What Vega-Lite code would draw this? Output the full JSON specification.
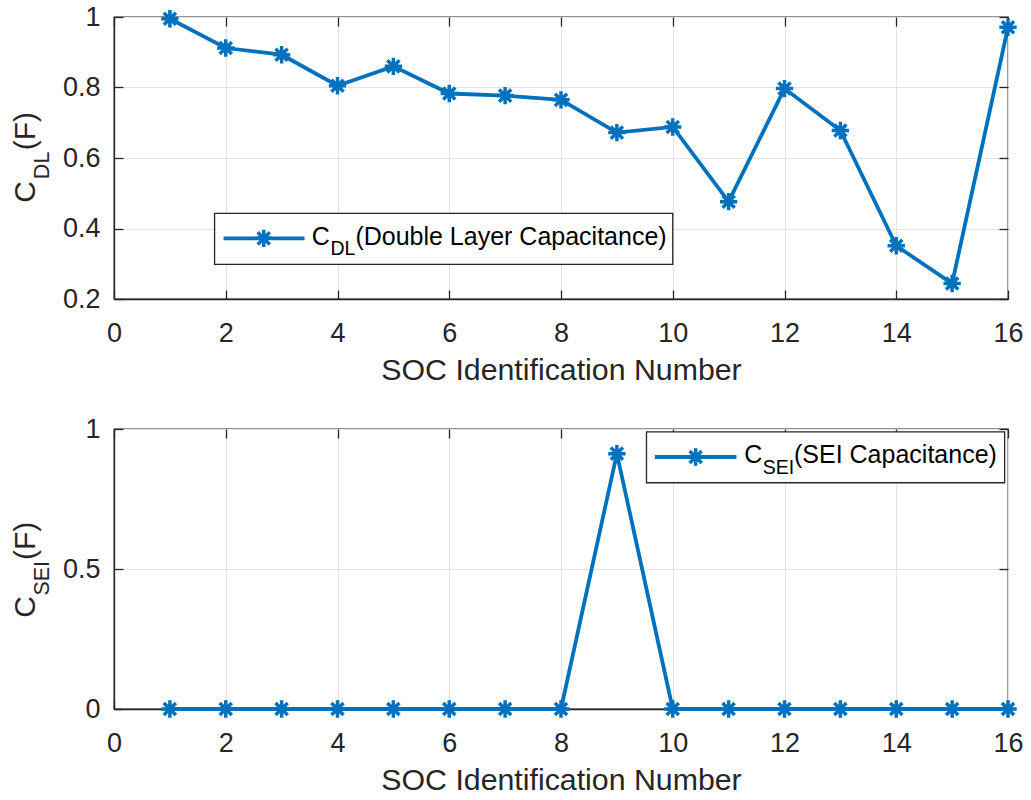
{
  "$schema": "https://vega.github.io/schema/vega-lite/v6.json",
  "background": "white",
  "padding": {"left": 10, "top": 2, "right": 5, "bottom": 5},
  "spacing": 28,
  "config": {
    "view": {"stroke": "#262626", "strokeWidth": 1.3},
    "axis": {
      "labelFont": "Liberation Sans",
      "labelFontSize": 27,
      "labelColor": "#262626",
      "labelFlush": false,
      "titleFont": "Liberation Sans",
      "titleFontSize": 30.3,
      "titleFontWeight": "normal",
      "titleColor": "#262626",
      "domainColor": "#262626",
      "domainWidth": 1.3,
      "tickColor": "#262626",
      "tickWidth": 1.3,
      "gridColor": "#e3e3e3",
      "gridWidth": 1
    },
    "text": {"font": "Liberation Sans"}
  },
  "datasets": {
    "cdl": [
      {"soc": 1, "cap": 0.995},
      {"soc": 2, "cap": 0.912},
      {"soc": 3, "cap": 0.893},
      {"soc": 4, "cap": 0.805},
      {"soc": 5, "cap": 0.860},
      {"soc": 6, "cap": 0.783},
      {"soc": 7, "cap": 0.777},
      {"soc": 8, "cap": 0.765},
      {"soc": 9, "cap": 0.672},
      {"soc": 10, "cap": 0.688},
      {"soc": 11, "cap": 0.476},
      {"soc": 12, "cap": 0.797},
      {"soc": 13, "cap": 0.678},
      {"soc": 14, "cap": 0.351},
      {"soc": 15, "cap": 0.244},
      {"soc": 16, "cap": 0.971}
    ],
    "csei": [
      {"soc": 1, "cap": 0},
      {"soc": 2, "cap": 0},
      {"soc": 3, "cap": 0},
      {"soc": 4, "cap": 0},
      {"soc": 5, "cap": 0},
      {"soc": 6, "cap": 0},
      {"soc": 7, "cap": 0},
      {"soc": 8, "cap": 0},
      {"soc": 9, "cap": 0.912},
      {"soc": 10, "cap": 0},
      {"soc": 11, "cap": 0},
      {"soc": 12, "cap": 0},
      {"soc": 13, "cap": 0},
      {"soc": 14, "cap": 0},
      {"soc": 15, "cap": 0},
      {"soc": 16, "cap": 0}
    ]
  },
  "vconcat": [
    {
      "width": 894,
      "height": 282,
      "resolve": {"axis": {"x": "independent", "y": "independent"}},
      "layer": [
        {
          "data": {"name": "cdl"},
          "mark": {"type": "line", "color": "#0072BD", "strokeWidth": 3.8, "clip": false},
          "encoding": {
            "x": {"field": "soc", "type": "quantitative", "scale": {"domain": [0, 16], "nice": false, "zero": false},
                  "axis": {"values": [0, 2, 4, 6, 8, 10, 12, 14, 16], "format": "~g", "grid": true, "ticks": false, "labelPadding": 21, "title": "SOC Identification Number", "titlePadding": 9}},
            "y": {"field": "cap", "type": "quantitative", "scale": {"domain": [0.2, 1], "nice": false, "zero": false},
                  "axis": {"values": [0.2, 0.4, 0.6, 0.8, 1], "format": "~g", "grid": true, "ticks": false, "labelPadding": 14, "title": null}}
          }
        },
        {
          "data": {"name": "cdl"},
          "mark": {"type": "point", "shape": "M0,-1L0,1M-1,0L1,0M-0.7,-0.7L0.7,0.7M-0.7,0.7L0.7,-0.7", "filled": false, "stroke": "#0072BD", "strokeWidth": 3.5, "size": 300, "opacity": 1, "clip": false},
          "encoding": {
            "x": {"field": "soc", "type": "quantitative", "scale": {"domain": [0, 16], "nice": false, "zero": false},
                  "axis": {"orient": "bottom", "values": [0, 2, 4, 6, 8, 10, 12, 14, 16], "labels": false, "domain": false, "grid": false, "tickSize": -9, "title": null}},
            "y": {"field": "cap", "type": "quantitative", "scale": {"domain": [0.2, 1], "nice": false, "zero": false},
                  "axis": {"orient": "left", "values": [0.2, 0.4, 0.6, 0.8, 1], "labels": false, "domain": false, "grid": false, "tickSize": -9, "title": null}}
          }
        },
        {
          "data": {"values": [{}]},
          "mark": {"type": "rect", "fill": "white", "stroke": "#262626", "strokeWidth": 1.3},
          "encoding": {
            "x": {"datum": 1.8, "type": "quantitative", "scale": {"domain": [0, 16], "nice": false, "zero": false},
                  "axis": {"orient": "top", "values": [0, 2, 4, 6, 8, 10, 12, 14, 16], "labels": false, "domain": false, "grid": false, "tickSize": -9, "title": null}},
            "x2": {"datum": 10.0},
            "y": {"datum": 0.443, "type": "quantitative", "scale": {"domain": [0.2, 1], "nice": false, "zero": false},
                  "axis": {"orient": "right", "values": [0.2, 0.4, 0.6, 0.8, 1], "labels": false, "domain": false, "grid": false, "tickSize": -9, "title": null}},
            "y2": {"datum": 0.298}
          }
        },
        {
          "data": {"values": [{}]},
          "mark": {"type": "rule", "color": "#0072BD", "strokeWidth": 3.8},
          "encoding": {
            "x": {"datum": 1.96, "type": "quantitative", "scale": {"domain": [0, 16], "nice": false, "zero": false}, "axis": null},
            "x2": {"datum": 3.41},
            "y": {"datum": 0.372, "type": "quantitative", "scale": {"domain": [0.2, 1], "nice": false, "zero": false}, "axis": null}
          }
        },
        {
          "data": {"values": [{}]},
          "mark": {"type": "point", "shape": "M0,-1L0,1M-1,0L1,0M-0.7,-0.7L0.7,0.7M-0.7,0.7L0.7,-0.7", "filled": false, "stroke": "#0072BD", "strokeWidth": 3.5, "size": 300, "opacity": 1},
          "encoding": {
            "x": {"datum": 2.68, "type": "quantitative", "scale": {"domain": [0, 16], "nice": false, "zero": false}, "axis": null},
            "y": {"datum": 0.372, "type": "quantitative", "scale": {"domain": [0.2, 1], "nice": false, "zero": false}, "axis": null}
          }
        },
        {
          "data": {"values": [{}]},
          "mark": {"type": "text", "text": "C", "fontSize": 25, "align": "left", "baseline": "alphabetic", "color": "#000000"},
          "encoding": {
            "x": {"datum": 3.54, "type": "quantitative", "scale": {"domain": [0, 16], "nice": false, "zero": false}, "axis": null},
            "y": {"datum": 0.354, "type": "quantitative", "scale": {"domain": [0.2, 1], "nice": false, "zero": false}, "axis": null}
          }
        },
        {
          "data": {"values": [{}]},
          "mark": {"type": "text", "text": "DL", "fontSize": 19.5, "align": "left", "baseline": "alphabetic", "color": "#000000"},
          "encoding": {
            "x": {"datum": 3.875, "type": "quantitative", "scale": {"domain": [0, 16], "nice": false, "zero": false}, "axis": null},
            "y": {"datum": 0.326, "type": "quantitative", "scale": {"domain": [0.2, 1], "nice": false, "zero": false}, "axis": null}
          }
        },
        {
          "data": {"values": [{}]},
          "mark": {"type": "text", "text": "(Double Layer Capacitance)", "fontSize": 25, "align": "left", "baseline": "alphabetic", "color": "#000000"},
          "encoding": {
            "x": {"datum": 4.32, "type": "quantitative", "scale": {"domain": [0, 16], "nice": false, "zero": false}, "axis": null},
            "y": {"datum": 0.354, "type": "quantitative", "scale": {"domain": [0.2, 1], "nice": false, "zero": false}, "axis": null}
          }
        },
        {
          "data": {"values": [{}]},
          "mark": {"type": "text", "text": "C", "fontSize": 30, "angle": 270, "align": "left", "baseline": "alphabetic", "color": "#262626"},
          "encoding": {
            "x": {"datum": -1.41, "type": "quantitative", "scale": {"domain": [0, 16], "nice": false, "zero": false}, "axis": null},
            "y": {"datum": 0.473, "type": "quantitative", "scale": {"domain": [0.2, 1], "nice": false, "zero": false}, "axis": null}
          }
        },
        {
          "data": {"values": [{}]},
          "mark": {"type": "text", "text": "DL", "fontSize": 21.5, "angle": 270, "align": "left", "baseline": "alphabetic", "color": "#262626"},
          "encoding": {
            "x": {"datum": -1.165, "type": "quantitative", "scale": {"domain": [0, 16], "nice": false, "zero": false}, "axis": null},
            "y": {"datum": 0.540, "type": "quantitative", "scale": {"domain": [0.2, 1], "nice": false, "zero": false}, "axis": null}
          }
        },
        {
          "data": {"values": [{}]},
          "mark": {"type": "text", "text": "(F)", "fontSize": 30, "angle": 270, "align": "left", "baseline": "alphabetic", "color": "#262626"},
          "encoding": {
            "x": {"datum": -1.41, "type": "quantitative", "scale": {"domain": [0, 16], "nice": false, "zero": false}, "axis": null},
            "y": {"datum": 0.622, "type": "quantitative", "scale": {"domain": [0.2, 1], "nice": false, "zero": false}, "axis": null}
          }
        }
      ]
    },
    {
      "width": 894,
      "height": 280,
      "resolve": {"axis": {"x": "independent", "y": "independent"}},
      "layer": [
        {
          "data": {"name": "csei"},
          "mark": {"type": "line", "color": "#0072BD", "strokeWidth": 3.8, "clip": false},
          "encoding": {
            "x": {"field": "soc", "type": "quantitative", "scale": {"domain": [0, 16], "nice": false, "zero": false},
                  "axis": {"values": [0, 2, 4, 6, 8, 10, 12, 14, 16], "format": "~g", "grid": true, "ticks": false, "labelPadding": 21, "title": "SOC Identification Number", "titlePadding": 9}},
            "y": {"field": "cap", "type": "quantitative", "scale": {"domain": [0, 1], "nice": false, "zero": false},
                  "axis": {"values": [0, 0.5, 1], "format": "~g", "grid": true, "ticks": false, "labelPadding": 14, "title": null}}
          }
        },
        {
          "data": {"name": "csei"},
          "mark": {"type": "point", "shape": "M0,-1L0,1M-1,0L1,0M-0.7,-0.7L0.7,0.7M-0.7,0.7L0.7,-0.7", "filled": false, "stroke": "#0072BD", "strokeWidth": 3.5, "size": 300, "opacity": 1, "clip": false},
          "encoding": {
            "x": {"field": "soc", "type": "quantitative", "scale": {"domain": [0, 16], "nice": false, "zero": false},
                  "axis": {"orient": "bottom", "values": [0, 2, 4, 6, 8, 10, 12, 14, 16], "labels": false, "domain": false, "grid": false, "tickSize": -9, "title": null}},
            "y": {"field": "cap", "type": "quantitative", "scale": {"domain": [0, 1], "nice": false, "zero": false},
                  "axis": {"orient": "left", "values": [0, 0.5, 1], "labels": false, "domain": false, "grid": false, "tickSize": -9, "title": null}}
          }
        },
        {
          "data": {"values": [{}]},
          "mark": {"type": "rect", "fill": "white", "stroke": "#262626", "strokeWidth": 1.3},
          "encoding": {
            "x": {"datum": 9.53, "type": "quantitative", "scale": {"domain": [0, 16], "nice": false, "zero": false},
                  "axis": {"orient": "top", "values": [0, 2, 4, 6, 8, 10, 12, 14, 16], "labels": false, "domain": false, "grid": false, "tickSize": -9, "title": null}},
            "x2": {"datum": 15.94},
            "y": {"datum": 0.990, "type": "quantitative", "scale": {"domain": [0, 1], "nice": false, "zero": false},
                  "axis": {"orient": "right", "values": [0, 0.5, 1], "labels": false, "domain": false, "grid": false, "tickSize": -9, "title": null}},
            "y2": {"datum": 0.808}
          }
        },
        {
          "data": {"values": [{}]},
          "mark": {"type": "rule", "color": "#0072BD", "strokeWidth": 3.8},
          "encoding": {
            "x": {"datum": 9.68, "type": "quantitative", "scale": {"domain": [0, 16], "nice": false, "zero": false}, "axis": null},
            "x2": {"datum": 11.14},
            "y": {"datum": 0.9, "type": "quantitative", "scale": {"domain": [0, 1], "nice": false, "zero": false}, "axis": null}
          }
        },
        {
          "data": {"values": [{}]},
          "mark": {"type": "point", "shape": "M0,-1L0,1M-1,0L1,0M-0.7,-0.7L0.7,0.7M-0.7,0.7L0.7,-0.7", "filled": false, "stroke": "#0072BD", "strokeWidth": 3.5, "size": 300, "opacity": 1},
          "encoding": {
            "x": {"datum": 10.41, "type": "quantitative", "scale": {"domain": [0, 16], "nice": false, "zero": false}, "axis": null},
            "y": {"datum": 0.9, "type": "quantitative", "scale": {"domain": [0, 1], "nice": false, "zero": false}, "axis": null}
          }
        },
        {
          "data": {"values": [{}]},
          "mark": {"type": "text", "text": "C", "fontSize": 25, "align": "left", "baseline": "alphabetic", "color": "#000000"},
          "encoding": {
            "x": {"datum": 11.28, "type": "quantitative", "scale": {"domain": [0, 16], "nice": false, "zero": false}, "axis": null},
            "y": {"datum": 0.880, "type": "quantitative", "scale": {"domain": [0, 1], "nice": false, "zero": false}, "axis": null}
          }
        },
        {
          "data": {"values": [{}]},
          "mark": {"type": "text", "text": "SEI", "fontSize": 19.5, "align": "left", "baseline": "alphabetic", "color": "#000000"},
          "encoding": {
            "x": {"datum": 11.61, "type": "quantitative", "scale": {"domain": [0, 16], "nice": false, "zero": false}, "axis": null},
            "y": {"datum": 0.838, "type": "quantitative", "scale": {"domain": [0, 1], "nice": false, "zero": false}, "axis": null}
          }
        },
        {
          "data": {"values": [{}]},
          "mark": {"type": "text", "text": "(SEI Capacitance)", "fontSize": 25, "align": "left", "baseline": "alphabetic", "color": "#000000"},
          "encoding": {
            "x": {"datum": 12.17, "type": "quantitative", "scale": {"domain": [0, 16], "nice": false, "zero": false}, "axis": null},
            "y": {"datum": 0.880, "type": "quantitative", "scale": {"domain": [0, 1], "nice": false, "zero": false}, "axis": null}
          }
        },
        {
          "data": {"values": [{}]},
          "mark": {"type": "text", "text": "C", "fontSize": 30, "angle": 270, "align": "left", "baseline": "alphabetic", "color": "#262626"},
          "encoding": {
            "x": {"datum": -1.41, "type": "quantitative", "scale": {"domain": [0, 16], "nice": false, "zero": false}, "axis": null},
            "y": {"datum": 0.326, "type": "quantitative", "scale": {"domain": [0, 1], "nice": false, "zero": false}, "axis": null}
          }
        },
        {
          "data": {"values": [{}]},
          "mark": {"type": "text", "text": "SEI", "fontSize": 21.5, "angle": 270, "align": "left", "baseline": "alphabetic", "color": "#262626"},
          "encoding": {
            "x": {"datum": -1.165, "type": "quantitative", "scale": {"domain": [0, 16], "nice": false, "zero": false}, "axis": null},
            "y": {"datum": 0.405, "type": "quantitative", "scale": {"domain": [0, 1], "nice": false, "zero": false}, "axis": null}
          }
        },
        {
          "data": {"values": [{}]},
          "mark": {"type": "text", "text": "(F)", "fontSize": 30, "angle": 270, "align": "left", "baseline": "alphabetic", "color": "#262626"},
          "encoding": {
            "x": {"datum": -1.41, "type": "quantitative", "scale": {"domain": [0, 16], "nice": false, "zero": false}, "axis": null},
            "y": {"datum": 0.532, "type": "quantitative", "scale": {"domain": [0, 1], "nice": false, "zero": false}, "axis": null}
          }
        }
      ]
    }
  ]
}
